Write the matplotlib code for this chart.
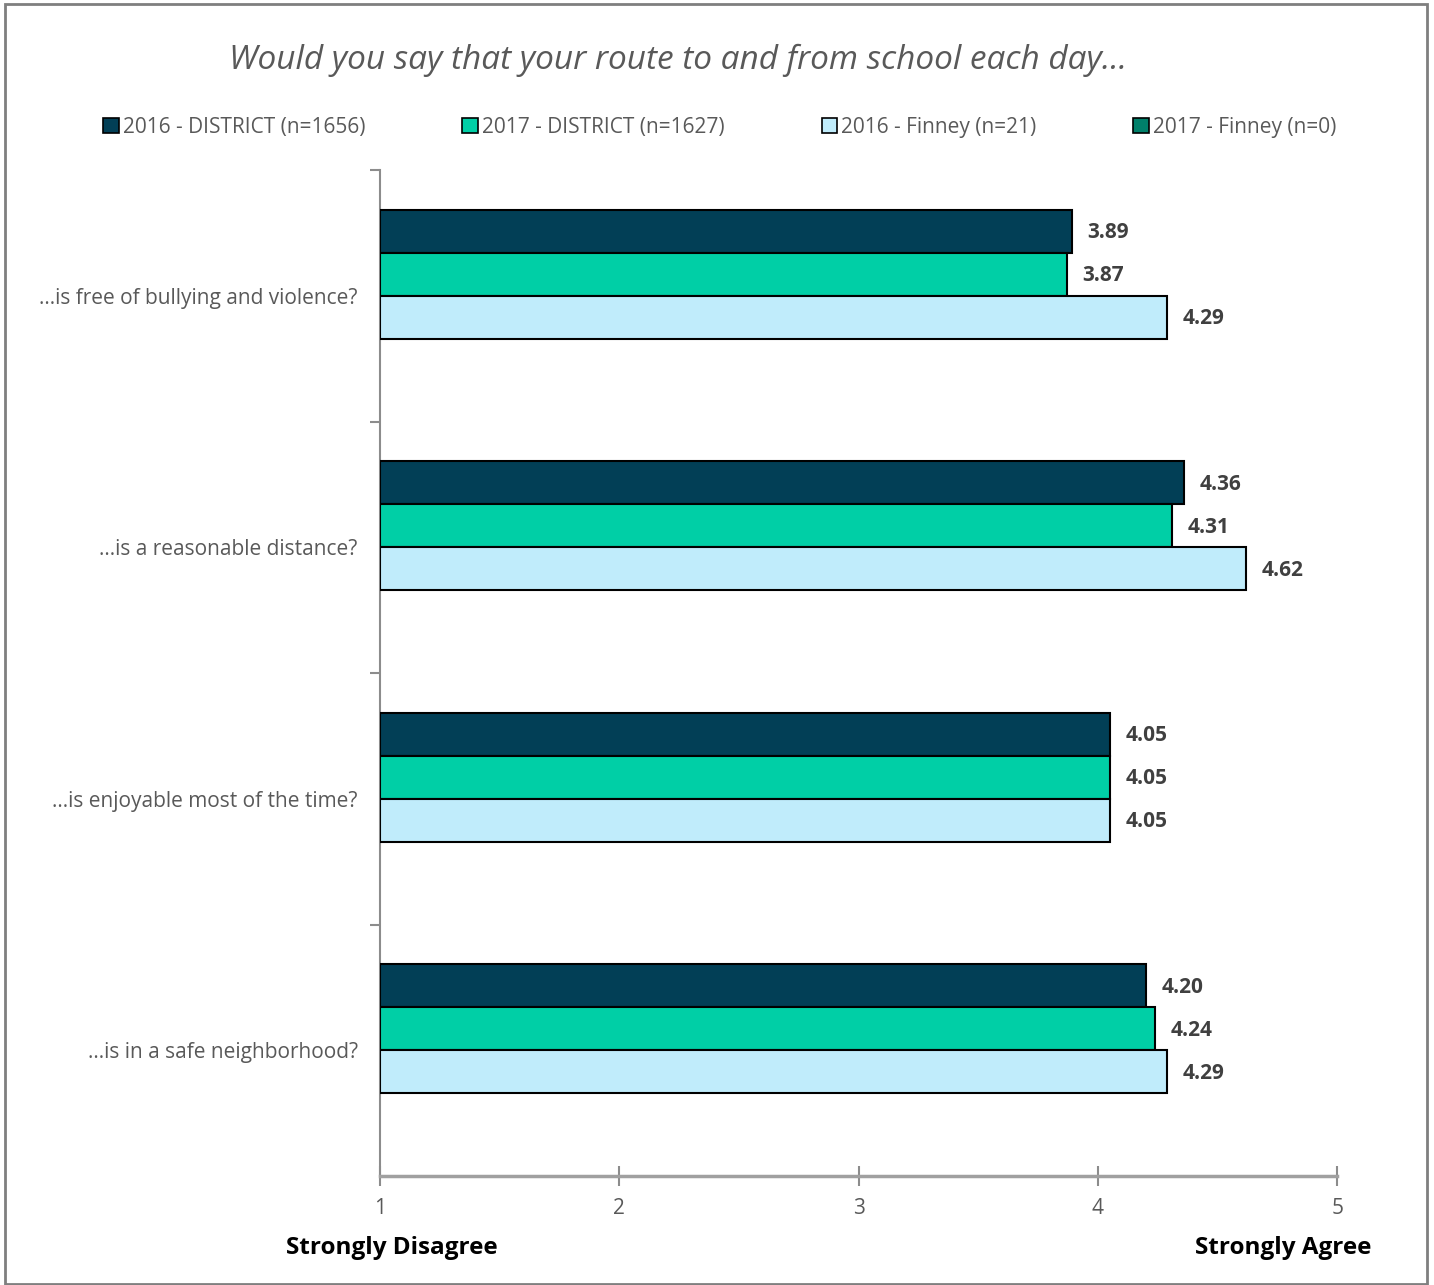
import numpy as np
import matplotlib
matplotlib.use("Agg")
import matplotlib.pyplot as plt
from matplotlib.patches import Patch, Rectangle

plt.rcParams['font.family'] = ['Open Sans', 'DejaVu Sans']

# data
questions = ["...is free of bullying and violence?",
             "...is a reasonable distance?",
             "...is enjoyable most of the time?",
             "...is in a safe neighborhood?"]
series = ["2016 - DISTRICT (n=1656)", "2017 - DISTRICT (n=1627)",
          "2016 - Finney (n=21)", "2017 - Finney (n=0)"]
district_2016 = [3.89, 4.36, 4.05, 4.20]
district_2017 = [3.87, 4.31, 4.05, 4.24]
finney_2016 = [4.29, 4.62, 4.05, 4.29]
finney_2017 = [np.nan, np.nan, np.nan, np.nan]
colors = ["#023f56", "#00cfa6", "#c0ecfb", "#00806a"]

values = [district_2016, district_2017, finney_2016, finney_2017]

fig = plt.figure(figsize=(14.34, 12.85), dpi=100)
ax = fig.add_axes([0.265, 0.0848, 0.6675, 0.7829])

h = 43 / 252
y = np.arange(len(questions))
for j, (vals, c) in enumerate(zip(values, colors)):
    pos = y + (j - 1.5) * h
    v = np.array(vals, dtype=float)
    ok = ~np.isnan(v)
    if not ok.any():
        continue
    ax.barh(pos[ok], v[ok] - 1, left=1, height=h, color=c,
            edgecolor='black', linewidth=1.5, zorder=3)
    for p, val in zip(pos[ok], v[ok]):
        ax.text(val + 0.065, p + 0.006, f"{val:.2f}", va='center', ha='left',
                fontsize=15, fontweight='bold', color='#404040')

ax.set_xlim(1, 5)
ax.set_ylim(3.5, -0.5)
ax.set_xticks([1, 2, 3, 4, 5])
ax.set_yticks([-0.5, 0.5, 1.5, 2.5])
ax.set_yticklabels([])
ax.set_yticks(y, minor=True)
ax.set_yticklabels(questions, minor=True, fontsize=15, color='#595959')
ax.tick_params(axis='y', which='major', length=7, width=1.5, color='#8c8c8c', direction='out')
ax.tick_params(axis='y', which='minor', length=0, pad=16)
ax.tick_params(axis='x', length=14, width=1.5, color='#8c8c8c', direction='inout',
               labelsize=15, labelcolor='#595959', pad=9)
for s in ['top', 'right']:
    ax.spines[s].set_visible(False)
ax.spines['left'].set_color('#8c8c8c')
ax.spines['left'].set_linewidth(1.5)
ax.spines['bottom'].set_color('#a0a0a0')
ax.spines['bottom'].set_linewidth(2.5)

fig.text(0.4728, 1 - 60 / 1285, "Would you say that your route to and from school each day...",
         ha='center', va='center', fontsize=24, style='italic', color='#595959')

handles = [Patch(facecolor=c, edgecolor='black', linewidth=1.2) for c in colors]
fig.legend(handles, series, loc='center', bbox_to_anchor=(0.502, 1 - 127 / 1285), ncol=4,
           frameon=False, fontsize=15, handlelength=0.75, handleheight=0.75,
           handletextpad=0.2, columnspacing=4.65, labelcolor='#595959')

fig.text(392 / 1434, 1 - 1248 / 1285, "Strongly Disagree", ha='center', va='center',
         fontsize=17.5, fontweight='bold', color='black')
fig.text(1283 / 1434, 1 - 1248 / 1285, "Strongly Agree", ha='center', va='center',
         fontsize=17.5, fontweight='bold', color='black')

fig.patches.append(Rectangle((5 / 1434, 0.001), 1422 / 1434, 1 - 4 / 1285 - 0.001,
                             transform=fig.transFigure, fill=False,
                             edgecolor='#7f7f7f', linewidth=2))

fig.savefig("out.png", dpi=100)
